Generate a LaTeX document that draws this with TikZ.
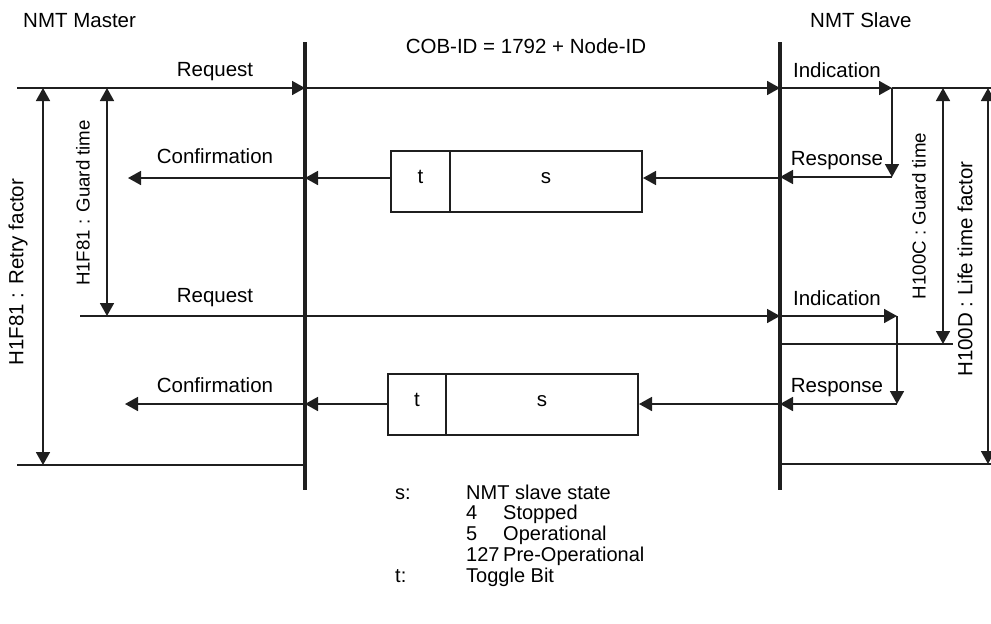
\documentclass[tikz,border=0pt]{standalone}
\usepackage{fontspec}
\setmainfont{Liberation Sans}
\usetikzlibrary{arrows.meta}
\begin{document}
\begin{tikzpicture}[x=1pt,y=-1pt,
  thinln/.style={line width=1.7pt, draw=black!88},
  tip/.tip={Triangle[length=13pt,width=14pt]},
  arr/.style={thinln,-tip},
  darr/.style={thinln,tip-tip},
  lifeline/.style={line width=3.6pt, draw=black!88},
  lbl/.style={font=\fontsize{20.5}{24}\selectfont, inner sep=0pt, anchor=base},
  lgd/.style={font=\fontsize{20}{24}\selectfont, inner sep=0pt, anchor=base west},
  vlbl/.style={font=\fontsize{20.5}{24}\selectfont, inner sep=0pt, rotate=90},
  vlbls/.style={font=\fontsize{18.7}{22}\selectfont, inner sep=0pt, rotate=90},
  pkt/.style={draw=black!88, line width=2pt, minimum height=61pt, inner sep=0pt,
    font=\fontsize{20.5}{24}\selectfont, text height=10pt, text depth=7pt, anchor=north west}
]
\useasboundingbox (0,0) rectangle (991,624);

% lifelines
\coordinate (mtop) at (305,42); \coordinate (mbot) at (305,490);
\coordinate (stop) at (780,42); \coordinate (sbot) at (780,490);
\draw[lifeline] (mtop) -- (mbot);
\draw[lifeline] (stop) -- (sbot);

% headers
\node[lbl, anchor=base west] (master) at (23,27) {NMT Master};
\node[lbl, anchor=base west] (slave) at (810,27) {NMT Slave};
\node[lbl] (cob) at (526,53) {COB-ID = 1792 + Node-ID};

% first cycle coordinates
\coordinate (a0) at (17,88);  \coordinate (am) at (305,88);
\coordinate (as) at (780,88); \coordinate (ai) at (892,88);
\coordinate (ae) at (991,88);
\coordinate (ar) at (892,177); \coordinate (asr) at (780,177);
\coordinate (ms1) at (305,178); \coordinate (ss1) at (780,178);
\coordinate (cf1) at (128,178);

\draw[arr] (a0) -- (am);
\draw[arr] (am) -- (as);
\draw[arr] (as) -- (ai);
\draw[thinln] (ai) -- (ae);
\draw[arr] (ai) -- (ar);
\draw[arr] (ar) -- (asr);

\node[pkt, minimum width=59pt] (t1) at (390,150) {t};
\node[pkt, minimum width=192pt] (s1) at (449,150) {s};
\draw[arr] (ss1) -- (s1.east |- ss1);
\draw[arr] (t1.west |- ms1) -- (ms1);
\draw[arr] (ms1) -- (cf1);

\node[lbl] (req1) at (215,76) {Request};
\node[lbl] (ind1) at (837,77) {Indication};
\node[lbl] (con1) at (215,163) {Confirmation};
\node[lbl] (res1) at (837,165) {Response};

% second cycle
\coordinate (b0) at (80,316);  \coordinate (bs) at (780,316);
\coordinate (bi) at (897,316); \coordinate (br) at (897,404);
\coordinate (bsr) at (780,404); \coordinate (ms2) at (305,404);
\coordinate (cf2) at (125,404);

\draw[arr] (b0) -- (bs);
\draw[arr] (bs) -- (bi);
\draw[arr] (bi) -- (br);
\draw[arr] (br) -- (bsr);

\node[pkt, minimum width=58pt] (t2) at (387,373) {t};
\node[pkt, minimum width=192pt] (s2) at (445,373) {s};
\draw[arr] (bsr) -- (s2.east |- bsr);
\draw[arr] (t2.west |- ms2) -- (ms2);
\draw[arr] (ms2) -- (cf2);

\node[lbl] (req2) at (215,302) {Request};
\node[lbl] (ind2) at (837,305) {Indication};
\node[lbl] (con2) at (215,392) {Confirmation};
\node[lbl] (res2) at (837,392) {Response};

% bottom lines
\coordinate (c0) at (17,465); \coordinate (cm) at (305,465);
\coordinate (cs) at (780,464); \coordinate (ce) at (991,464);
\draw[thinln] (c0) -- (cm);
\draw[thinln] (cs) -- (ce);

% guard line on slave side
\coordinate (gs) at (780,344); \coordinate (ge) at (953,344);
\draw[thinln] (gs) -- (ge);

% dimension arrows
\coordinate (rt) at (43,88);  \coordinate (rb) at (43,465);
\coordinate (gt) at (107,88); \coordinate (gb) at (107,316);
\coordinate (ht) at (943,88); \coordinate (hb) at (943,344);
\coordinate (lt) at (988,88); \coordinate (lb) at (988,464);
\draw[darr] (rt) -- (rb);
\draw[darr] (gt) -- (gb);
\draw[darr] (ht) -- (hb);
\draw[darr] (lt) -- (lb);

\node[vlbl] (retry) at (18,272) {H1F81 : Retry factor};
\node[vlbls] (mguard) at (83,203) {H1F81 : Guard time};
\node[vlbls] (sguard) at (919,216) {H100C : Guard time};
\node[vlbl] (life) at (965,269) {H100D : Life time factor};

% legend
\node[lgd] (ls) at (395,499) {s:};
\node[lgd] (lsd) at (466,499) {NMT slave state};
\node[lgd] (l4) at (466,519) {4};
\node[lgd] (l4d) at (503,519) {Stopped};
\node[lgd] (l5) at (466,540) {5};
\node[lgd] (l5d) at (503,540) {Operational};
\node[lgd] (l127) at (466,561) {127};
\node[lgd] (l127d) at (503,561) {Pre-Operational};
\node[lgd] (lt2) at (395,582) {t:};
\node[lgd] (ltd) at (466,582) {Toggle Bit};
\end{tikzpicture}
\end{document}
